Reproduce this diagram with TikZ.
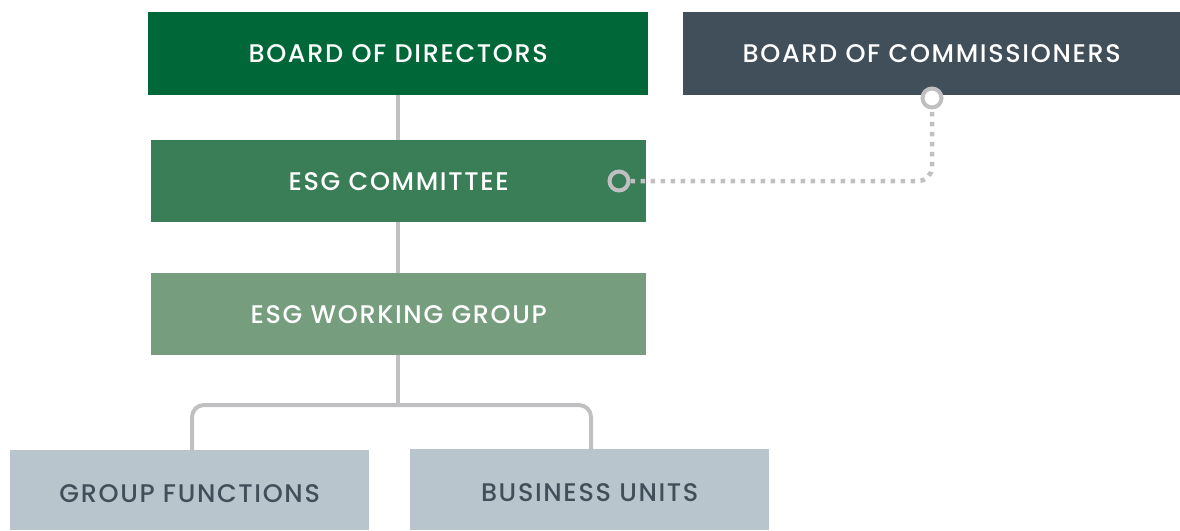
\documentclass[tikz,border=0pt]{standalone}
\usepackage{fontspec}
\setmainfont{Poppins}
\newfontfamily\lblfont[LetterSpace=6.5]{Poppins Medium}
\begin{document}
\definecolor{bodgreen}{RGB}{0,103,56}
\definecolor{comgreen}{RGB}{58,126,87}
\definecolor{wggreen}{RGB}{117,157,126}
\definecolor{slate}{RGB}{65,79,90}
\definecolor{paleblue}{RGB}{184,197,205}
\definecolor{linegray}{RGB}{192,192,194}
\begin{tikzpicture}[x=1pt,y=-1pt,
  box/.style={rectangle, inner sep=0pt, anchor=north west, font=\lblfont\fontsize{25.5}{30}\selectfont},
  unitbox/.style={box, fill=paleblue, text=slate, text height=24pt, minimum width=359pt},
  link/.style={draw=linegray, line width=4pt},
  dotlink/.style={draw=linegray, line width=4.5pt, dash pattern=on 4.5pt off 5.5pt, rounded corners=14pt},
  ring/.style={circle, draw=linegray, line width=4pt, minimum size=19pt, inner sep=0pt}]
\useasboundingbox (0,0) rectangle (1180,530);
% boxes
\node[box, fill=bodgreen, text=white, minimum width=500pt, minimum height=83pt] (bod) at (148,12) {BOARD OF DIRECTORS};
\node[box, fill=slate, text=white, minimum width=497pt, minimum height=83pt] (boc) at (683,12) {BOARD OF COMMISSIONERS};
\node[box, fill=comgreen, text=white, minimum width=495pt, minimum height=82pt] (esgc) at (151,140) {ESG COMMITTEE};
\node[box, fill=wggreen, text=white, minimum width=495pt, minimum height=82pt] (wg) at (151,273) {ESG WORKING GROUP};
\node[unitbox, minimum height=80pt] (gf) at (10,450) {GROUP FUNCTIONS};
\node[unitbox, minimum height=81pt] (bu) at (410,449) {BUSINESS UNITS};
% reporting lines
\coordinate (split) at (398,405);
\draw[link] (bod.south -| split) -- (esgc.north -| split);
\draw[link] (esgc.south -| split) -- (wg.north -| split);
\draw[link] (wg.south -| split) -- (split);
\draw[link, rounded corners=12pt] (split) -| (gf.north -| 192,0);
\draw[link, rounded corners=12pt] (split) -| (bu.north -| 591,0);
% dotted link to the commissioners
\node[ring] (r1) at (619,181) {};
\node[ring, fill=white] (r2) at (932,98) {};
\draw[dotlink] (r1.east) -- (932,181) -- (r2.south);
\end{tikzpicture}
\end{document}
